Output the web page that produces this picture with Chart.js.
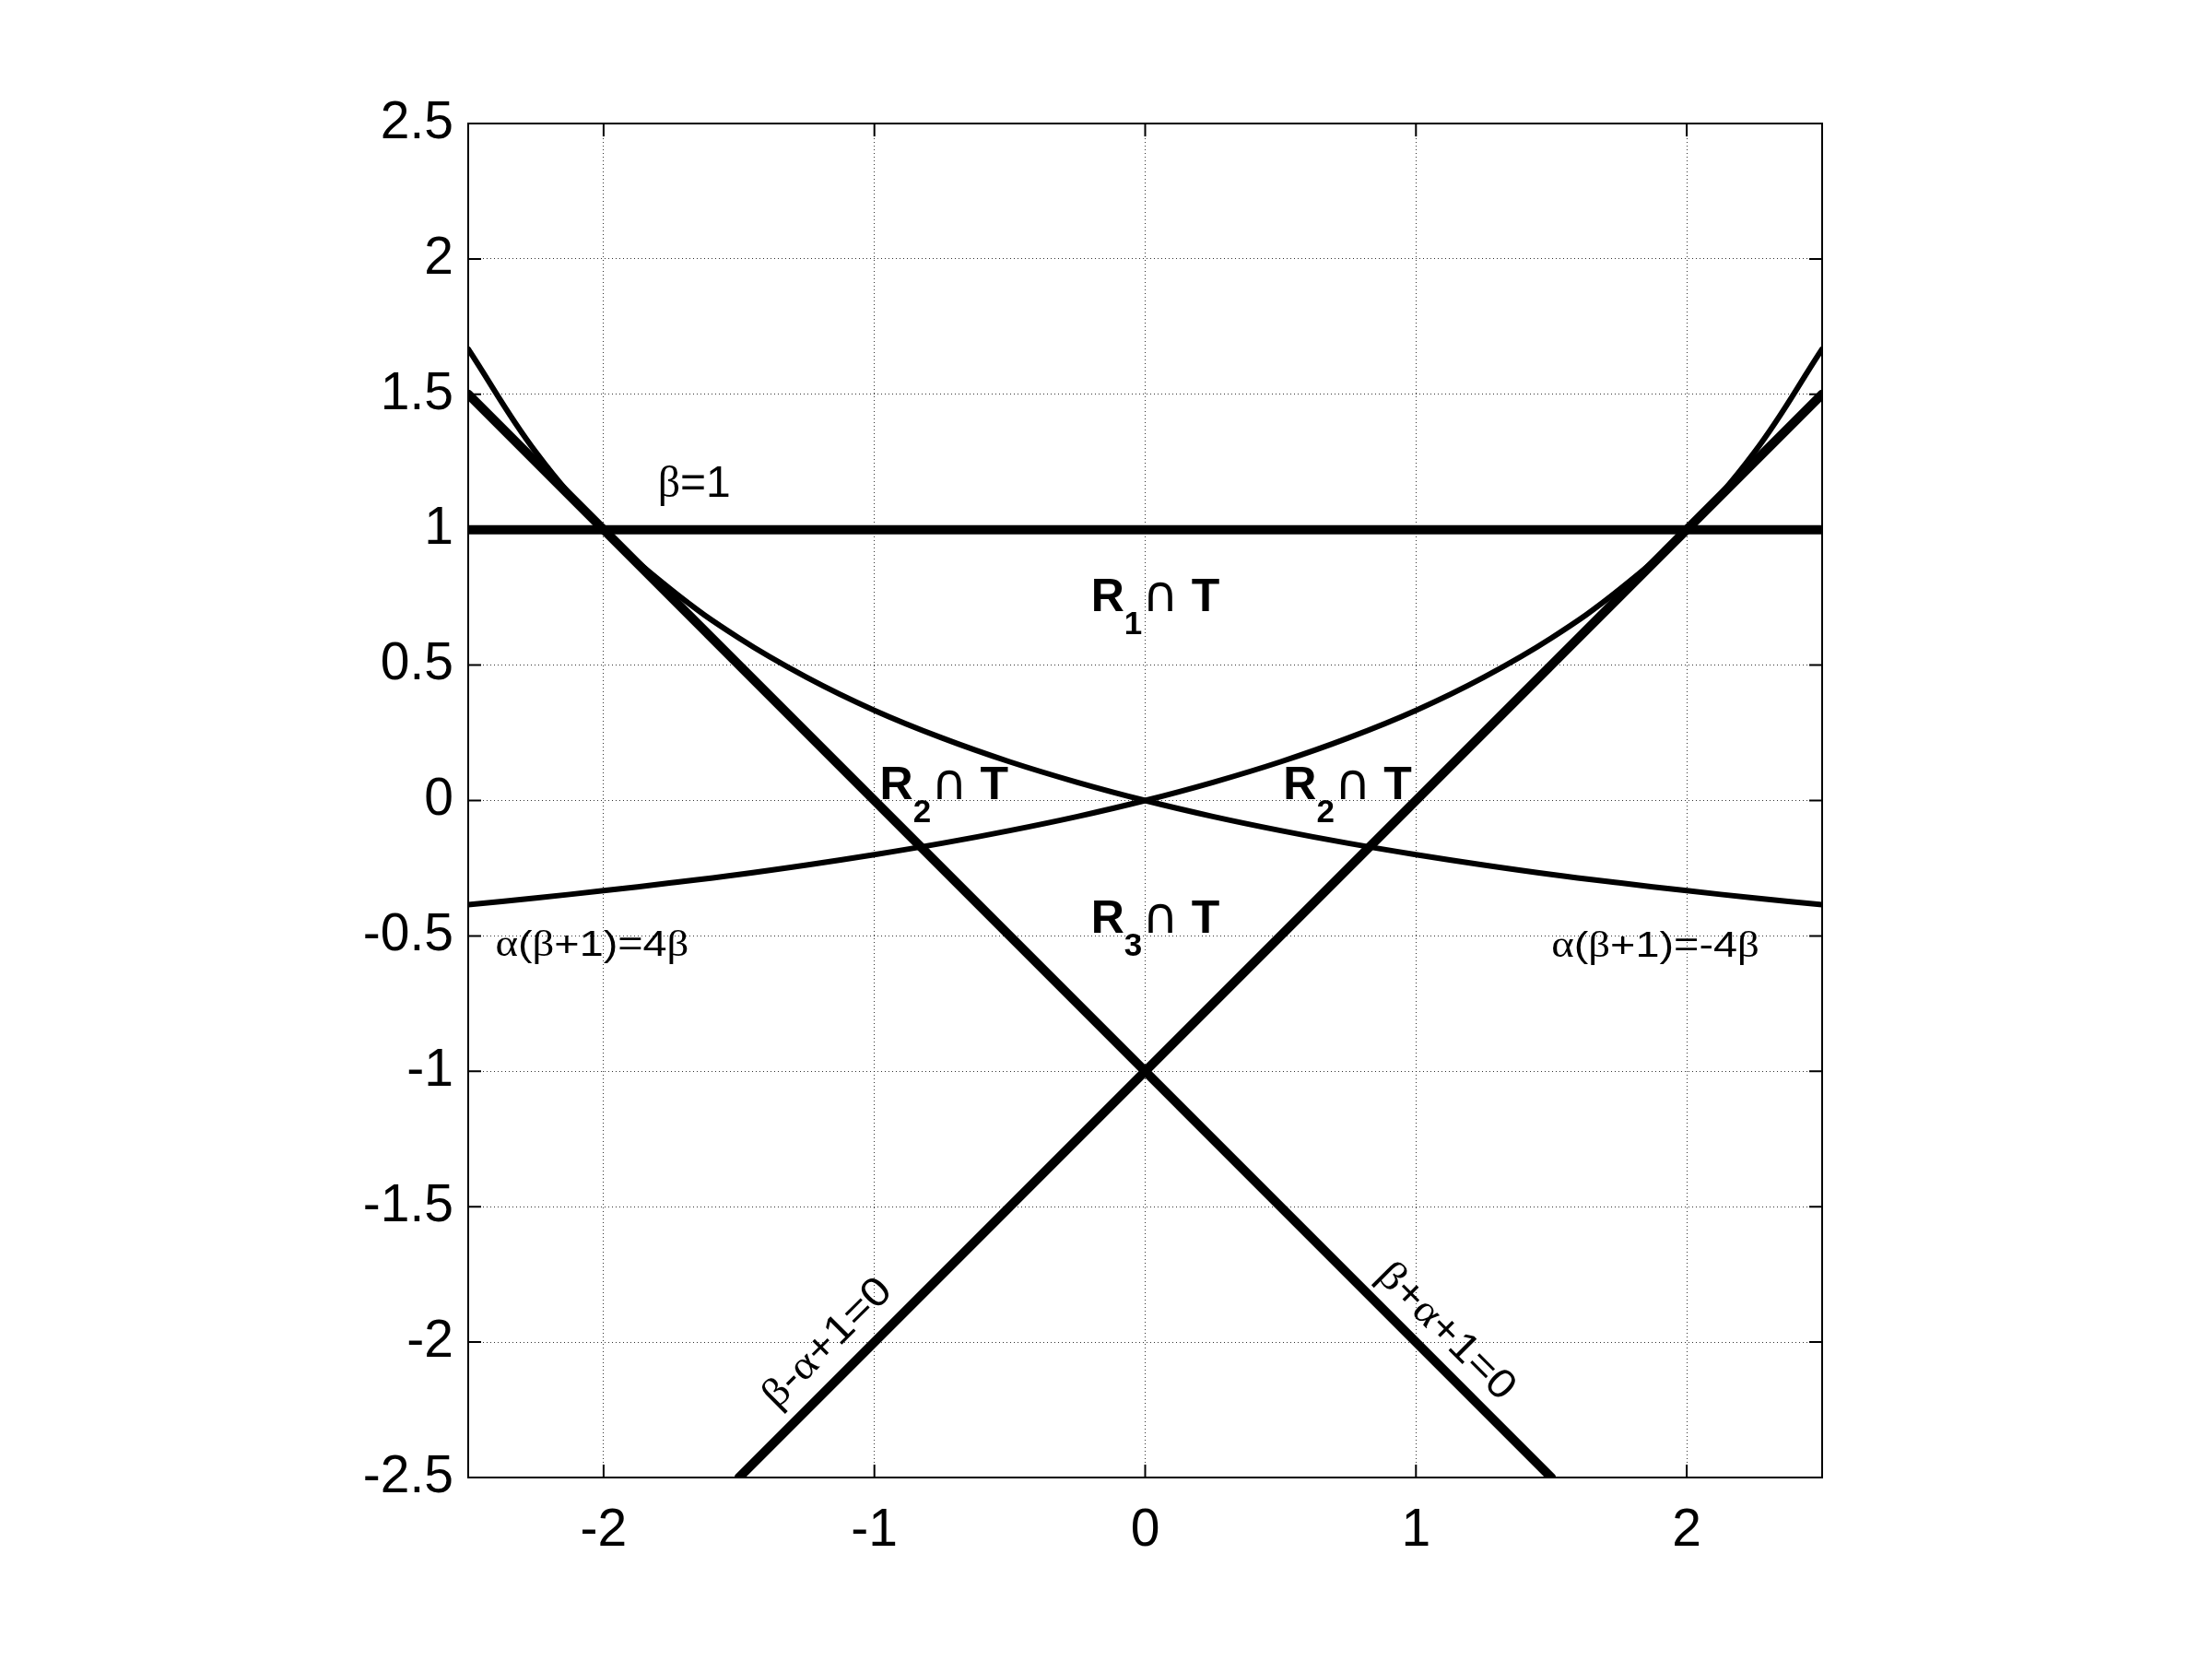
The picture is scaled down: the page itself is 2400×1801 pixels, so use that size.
<!DOCTYPE html>
<html>
<head>
<meta charset="utf-8">
<script src="https://cdn.jsdelivr.net/npm/chart.js@4/dist/chart.umd.min.js"></script>
<style>
  html, body { margin: 0; padding: 0; background: #fff; }
  canvas { display: block; }
</style>
</head>
<body>
<canvas id="chart" width="2400" height="1801"></canvas>
<script>
// tick values
var xTicks = [-2, -1, 0, 1, 2];
var yTicks = [-2.5, -2, -1.5, -1, -0.5, 0, 0.5, 1, 1.5, 2, 2.5];

// alpha samples for the two curves
var alphaGrid = [-2.5, -2.25, -2, -1.75, -1.5, -1.25, -1, -0.75, -0.5, -0.25, 0,
                 0.25, 0.5, 0.75, 1, 1.25, 1.5, 1.75, 2, 2.25, 2.5];
// alpha(beta+1)=4beta
var curveFour = [-0.385, -0.360, -0.333, -0.304, -0.273, -0.238, -0.200, -0.158, -0.111, -0.059, 0,
                 0.067, 0.143, 0.231, 0.333, 0.455, 0.600, 0.778, 1.000, 1.286, 1.667];
// alpha(beta+1)=-4beta
var curveMinusFour = [1.667, 1.286, 1.000, 0.778, 0.600, 0.455, 0.333, 0.231, 0.143, 0.067, 0,
                      -0.059, -0.111, -0.158, -0.200, -0.238, -0.273, -0.304, -0.333, -0.360, -0.385];

// straight lines, end points
var betaOneX = [-2.5, 2.5];
var betaOneY = [1, 1];
var sumLineX = [-2.5, 1.5];     // beta+alpha+1=0
var sumLineY = [1.5, -2.5];
var diffLineX = [-1.5, 2.5];    // beta-alpha+1=0
var diffLineY = [-2.5, 1.5];

// text labels: anchor (alpha, beta) at baseline start
var labelAnchors = {
  betaOne: [-1.80, 1.12],
  r1: [-0.20, 0.70],
  r2left: [-0.98, 0.005],
  r2right: [0.51, 0.005],
  r3: [-0.20, -0.49],
  four: [-2.40, -0.574],
  minusFour: [1.50, -0.577],
  diff: [-1.36, -2.25],
  sum: [0.85, -1.76]
};

var SANS = '"Liberation Sans", Arial, Helvetica, sans-serif';
var GREEK = '"Liberation Serif", "DejaVu Serif", serif';
var SYM = '"DejaVu Sans", sans-serif';

function zip(xs, ys) {
  return xs.map(function(x, i) { return {x: x, y: ys[i]}; });
}

function lineSet(data, width, smooth) {
  return {
    data: data,
    showLine: true,
    borderColor: '#000',
    borderWidth: width,
    pointRadius: 0,
    fill: false,
    clip: 0,
    tension: smooth ? 0.4 : 0,
    borderCapStyle: 'round'
  };
}

// draw a run of text pieces with individual fonts and vertical offsets
function drawRun(ctx, x, y, parts, angle, sx) {
  ctx.save();
  ctx.translate(x, y);
  ctx.rotate(angle || 0);
  ctx.scale(sx || 1, 1);
  ctx.fillStyle = '#000';
  ctx.textBaseline = 'alphabetic';
  ctx.textAlign = 'left';
  var cx = 0;
  parts.forEach(function(p) {
    ctx.font = p.f;
    ctx.fillText(p.t, cx, p.dy || 0);
    cx += ctx.measureText(p.t).width;
  });
  ctx.restore();
}

function formula(txt, size) {
  // greek letters go into the serif font
  var parts = [];
  for (var i = 0; i < txt.length; i++) {
    var ch = txt[i];
    var greek = (ch === 'α' || ch === 'β');
    parts.push({t: ch, f: size + 'px ' + (greek ? GREEK : SANS)});
  }
  return parts;
}

function regionLabel(sub) {
  return [
    {t: 'R', f: 'bold 50px ' + SANS},
    {t: sub, f: 'bold 35px ' + SANS, dy: 25},
    {t: '∩', f: '54px ' + SYM},
    {t: ' T', f: 'bold 50px ' + SANS}
  ];
}

var framePlugin = {
  id: 'frame',
  afterDraw: function(chart) {
    var ctx = chart.ctx, a = chart.chartArea;
    var xs = chart.scales.x, ys = chart.scales.y;
    ctx.save();
    ctx.strokeStyle = '#000';
    ctx.lineWidth = 2;
    ctx.strokeRect(a.left, a.top, a.right - a.left, a.bottom - a.top);
    var tl = 14;
    ctx.beginPath();
    xTicks.forEach(function(v) {
      var px = xs.getPixelForValue(v);
      ctx.moveTo(px, a.bottom); ctx.lineTo(px, a.bottom - tl);
      ctx.moveTo(px, a.top); ctx.lineTo(px, a.top + tl);
    });
    yTicks.forEach(function(v) {
      var py = ys.getPixelForValue(v);
      ctx.moveTo(a.left, py); ctx.lineTo(a.left + tl, py);
      ctx.moveTo(a.right, py); ctx.lineTo(a.right - tl, py);
    });
    ctx.stroke();
    ctx.restore();

    function P(key) {
      var p = labelAnchors[key];
      return [xs.getPixelForValue(p[0]), ys.getPixelForValue(p[1])];
    }
    var p;
    p = P('betaOne'); drawRun(ctx, p[0], p[1], formula('β=1', 48));
    p = P('r1'); drawRun(ctx, p[0], p[1], regionLabel('1'));
    p = P('r2left'); drawRun(ctx, p[0], p[1], regionLabel('2'));
    p = P('r2right'); drawRun(ctx, p[0], p[1], regionLabel('2'));
    p = P('r3'); drawRun(ctx, p[0], p[1], regionLabel('3'));
    p = P('four'); drawRun(ctx, p[0], p[1], formula('α(β+1)=4β', 39), 0, 1.2);
    p = P('minusFour'); drawRun(ctx, p[0], p[1], formula('α(β+1)=-4β', 39), 0, 1.2);
    p = P('diff'); drawRun(ctx, p[0], p[1], formula('β-α+1=0', 44), -Math.PI / 4, 1.12);
    p = P('sum'); drawRun(ctx, p[0], p[1], formula('β+α+1=0', 44), Math.PI / 4, 1.12);
  }
};

new Chart(document.getElementById('chart'), {
  type: 'scatter',
  data: {
    datasets: [
      lineSet(zip(betaOneX, betaOneY), 10, false),
      lineSet(zip(sumLineX, sumLineY), 10, false),
      lineSet(zip(diffLineX, diffLineY), 10, false),
      lineSet(zip(alphaGrid, curveFour), 6, true),
      lineSet(zip(alphaGrid, curveMinusFour), 6, true)
    ]
  },
  options: {
    responsive: false,
    animation: false,
    events: [],
    layout: { padding: { top: 134, right: 423, left: 0, bottom: 0 } },
    plugins: { legend: { display: false }, tooltip: { enabled: false } },
    scales: {
      x: {
        type: 'linear', min: -2.5, max: 2.5,
        afterBuildTicks: function(s) { s.ticks = xTicks.map(function(v) { return {value: v}; }); },
        afterFit: function(s) { s.height = 198; },
        grid: { color: 'rgba(0,0,0,0.8)', lineWidth: 1, drawTicks: false },
        border: { display: false, dash: [1, 3] },
        ticks: {
          color: '#000', padding: 24, maxRotation: 0,
          font: { family: SANS, size: 57 },
          callback: function(v) { return String(v); }
        }
      },
      y: {
        type: 'linear', min: -2.5, max: 2.5,
        afterBuildTicks: function(s) { s.ticks = yTicks.map(function(v) { return {value: v}; }); },
        afterFit: function(s) { s.width = 508; },
        grid: { color: 'rgba(0,0,0,0.8)', lineWidth: 1, drawTicks: false },
        border: { display: false, dash: [1, 3] },
        ticks: {
          color: '#000', padding: 16,
          font: { family: SANS, size: 57 },
          callback: function(v) { return String(v); }
        }
      }
    }
  },
  plugins: [framePlugin]
});
</script>
</body>
</html>
